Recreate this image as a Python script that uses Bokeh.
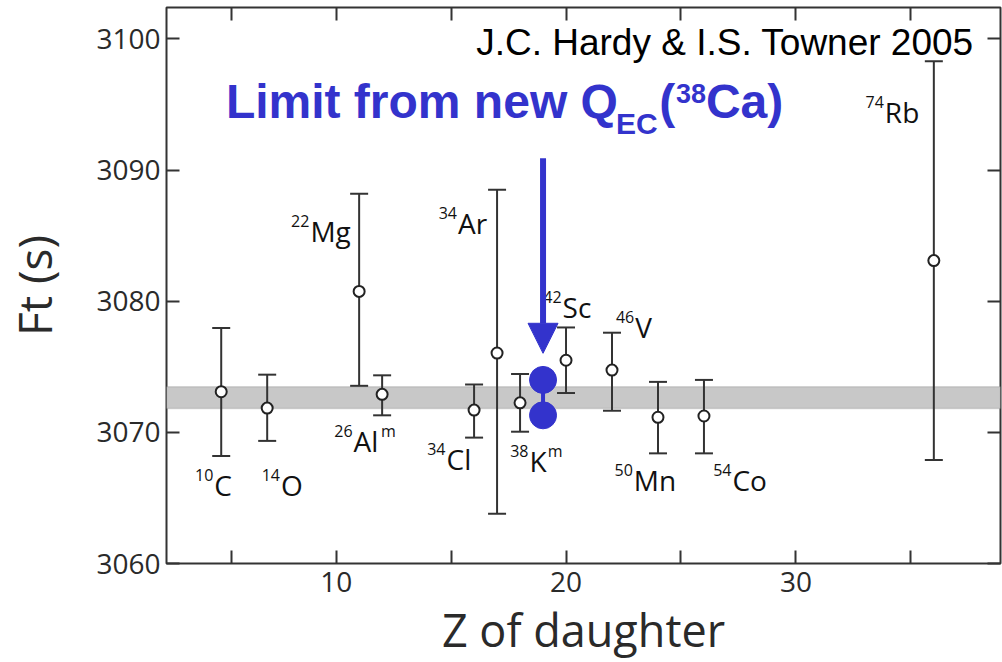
from bokeh.plotting import figure
from bokeh.models import (Range1d, LinearAxis, FixedTicker, BoxAnnotation, Arrow,
                          NormalHead, ColumnDataSource)
from bokeh.core.properties import value
from bokeh.embed import file_html
from bokeh.resources import INLINE

# ---------------- data ----------------
z_daughter = [5, 7, 11, 12, 16, 17, 18, 20, 22, 24, 26, 36]
ft_value = [3073.1, 3071.85, 3080.75, 3072.9, 3071.7, 3076.05, 3072.25, 3075.5,
            3074.75, 3071.15, 3071.25, 3083.1]
ft_low = [3068.2, 3069.35, 3073.55, 3071.3, 3069.6, 3063.8, 3070.05, 3073.0,
          3071.65, 3068.4, 3068.4, 3067.9]
ft_high = [3077.95, 3074.4, 3088.2, 3074.35, 3073.65, 3088.5, 3074.45, 3078.0,
           3077.6, 3073.85, 3074.0, 3098.3]
mass_number = ["10", "14", "22", "26", "34", "34", "38", "42", "46", "50", "54", "74"]
element = ["C", "O", "Mg", "Al", "Cl", "Ar", "K", "Sc", "V", "Mn", "Co", "Rb"]
isomer = ["", "", "", "m", "", "", "m", "", "", "", "", ""]

ca38_z = [19, 19]
ca38_ft_limits = [3074.0, 3071.3]

ft_average = 3072.65
ft_average_err = 0.83

y_ticks = [3060, 3070, 3080, 3090, 3100]
x_ticks = [5.45, 10, 15, 20, 25, 30, 35]
x_tick_labels = {10: "10", 20: "20", 30: "30"}

credit = "J.C. Hardy & I.S. Towner 2005"

# ---------------- layout (label anchors, data units) ----------------
label_z = [4.70, 7.60, 8.88, 10.76, 14.80, 15.30, 18.41, 19.85, 23.01, 22.95, 27.24, 33.87]
label_ft = [3065.31, 3065.29, 3084.65, 3068.60, 3067.26, 3085.29, 3067.08, 3078.84,
            3077.35, 3065.64, 3065.64, 3093.75]
isomer_z = [None, None, None, 11.95, None, None, 19.2, None, None, None, None, None]

BLUE = "#3333CC"
INK = "#2a2a2a"
FONT = "Open Sans"
LIFT = 0.33   # baseline correction, fraction of font size

p = figure(width=1002, height=662, output_backend="svg", toolbar_location=None,
           x_range=Range1d(2.62, 38.9), y_range=Range1d(3060, 3102.4),
           min_border_left=162, min_border_right=2, min_border_top=7,
           min_border_bottom=95, x_axis_location=None, y_axis_location=None)
p.background_fill_color = "white"
p.border_fill_color = "white"
p.grid.visible = False
p.outline_line_color = "#333333"
p.outline_line_width = 2


def style_axis(ax, labels=True):
    ax.axis_line_color = None
    ax.major_tick_in = 13
    ax.major_tick_out = 0
    ax.minor_tick_line_color = None
    ax.major_tick_line_color = "#333333"
    ax.major_tick_line_width = 2
    ax.major_label_text_font = FONT
    ax.major_label_text_font_size = "28px"
    ax.major_label_text_color = INK
    if not labels:
        ax.major_label_text_font_size = "1px"
        ax.major_label_text_color = None
        ax.major_label_standoff = 0


left = LinearAxis(ticker=FixedTicker(ticks=y_ticks), axis_label="Ft (s)")
style_axis(left)
left.major_label_standoff = 6
left.axis_label_text_font = FONT
left.axis_label_text_font_size = "46px"
left.axis_label_text_font_style = "normal"
left.axis_label_text_color = INK
left.axis_label_standoff = 28
p.add_layout(left, "left")

right = LinearAxis(ticker=FixedTicker(ticks=y_ticks))
style_axis(right, labels=False)
p.add_layout(right, "right")

bottom = LinearAxis(ticker=FixedTicker(ticks=x_ticks), axis_label="Z of daughter")
style_axis(bottom)
bottom.major_label_overrides = {t: x_tick_labels.get(t, "") for t in x_ticks}
bottom.major_label_standoff = 8
bottom.axis_label_text_font = FONT
bottom.axis_label_text_font_size = "45px"
bottom.axis_label_text_font_style = "normal"
bottom.axis_label_text_color = INK
bottom.axis_label_standoff = 4
p.add_layout(bottom, "below")

top = LinearAxis(ticker=FixedTicker(ticks=x_ticks))
style_axis(top, labels=False)
p.add_layout(top, "above")

# average band
band = BoxAnnotation(bottom=ft_average - ft_average_err, top=ft_average + ft_average_err,
                     fill_color="#c8c8c8", fill_alpha=1.0, line_color="#8c8c8c",
                     line_width=1.5, level="underlay")
p.add_layout(band)

src = ColumnDataSource(dict(z=z_daughter, ft=ft_value, lo=ft_low, hi=ft_high,
                            mass=mass_number, el=element, iso=isomer,
                            lz=label_z, lft=label_ft))

p.segment(x0="z", y0="lo", x1="z", y1="hi", source=src, line_color="#333333", line_width=2)
p.scatter(x="z", y="lo", source=src, marker="dash", size=18, line_color="#333333", line_width=2)
p.scatter(x="z", y="hi", source=src, marker="dash", size=18, line_color="#333333", line_width=2)
p.scatter(x="z", y="ft", source=src, marker="circle", size=11, fill_color="white",
          line_color="#222222", line_width=2)

# isotope labels
p.text(x="lz", y="lft", text="el", source=src, text_font=value(FONT),
       text_font_size="28px", text_color="#111111", text_align="left",
       text_baseline="alphabetic", y_offset=-LIFT * 28)
p.text(x="lz", y="lft", text="mass", source=src, text_font=value(FONT),
       text_font_size="16px", text_color="#111111", text_align="right",
       text_baseline="alphabetic", x_offset=-1, y_offset=-14 - LIFT * 16)
iso_src = ColumnDataSource(dict(
    x=[isomer_z[i] for i in range(len(isomer)) if isomer[i]],
    y=[label_ft[i] for i in range(len(isomer)) if isomer[i]],
    t=[isomer[i] for i in range(len(isomer)) if isomer[i]]))
p.text(x="x", y="y", text="t", source=iso_src, text_font=value(FONT),
       text_font_size="16px", text_color="#111111", text_align="left",
       text_baseline="alphabetic", y_offset=-14 - LIFT * 16)

# 38Ca limits
p.segment(x0=[ca38_z[0]], y0=[ca38_ft_limits[1]], x1=[ca38_z[0]], y1=[ca38_ft_limits[0]],
          line_color=BLUE, line_width=4)
p.scatter(x=ca38_z, y=ca38_ft_limits, marker="circle", size=27, fill_color=BLUE,
          line_color=BLUE)

arrow_top = 3090.9
p.add_layout(Arrow(end=NormalHead(size=30, fill_color=BLUE, line_color=BLUE, line_width=1),
                   x_start=ca38_z[0], y_start=arrow_top, x_end=ca38_z[0],
                   y_end=max(ca38_ft_limits) + 2.03, line_color=BLUE, line_width=6))

# titles
title_font = value("Liberation Sans")
tz, tft = 5.203, 3094.01
pieces = [("Limit from new Q", 48, 0, 0), ("EC", 30, 390, 15.7),
          ("(", 48, 433.3, 0), ("38", 27, 450, -15), ("Ca)", 48, 480, 0)]
for txt, size, dx, dy in pieces:
    p.text(x=[tz], y=[tft], text=[txt], text_font=title_font, text_font_size=f"{size}px",
           text_font_style="bold", text_color=BLUE, text_align="left",
           text_baseline="alphabetic", x_offset=dx, y_offset=dy - LIFT * size)

p.text(x=[37.74], y=[3098.81], text=[credit], text_font=title_font,
       text_font_size="37px", text_color="black", text_align="right",
       text_baseline="alphabetic", y_offset=-LIFT * 37)

open("out.html", "w").write(file_html(p, INLINE))
